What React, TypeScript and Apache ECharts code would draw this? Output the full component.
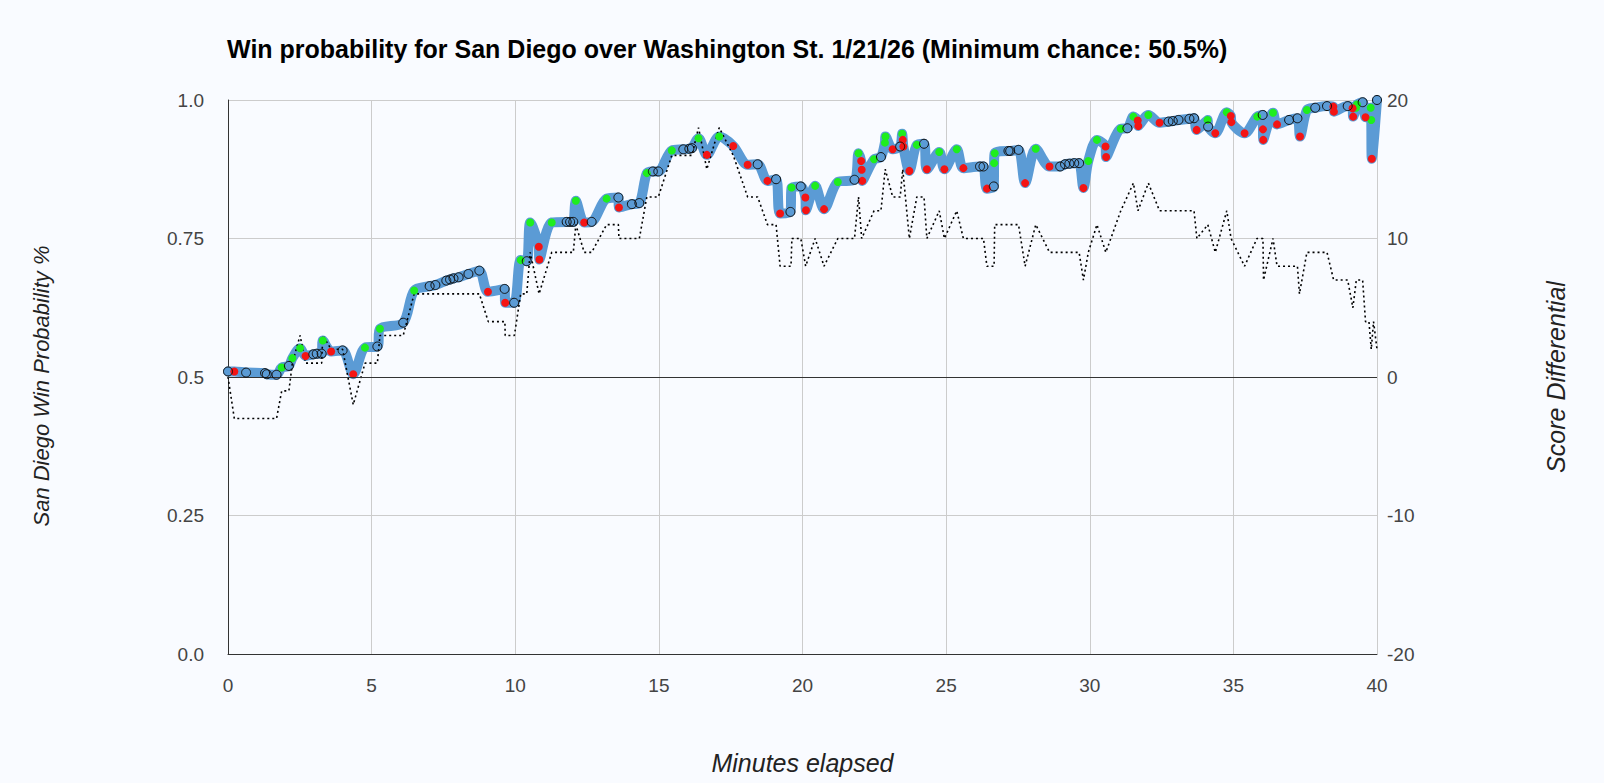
import React, { useEffect, useRef } from "react";
import * as echarts from "echarts";

const chartTitle =
  "Win probability for San Diego over Washington St. 1/21/26 (Minimum chance: 50.5%)";

const xTitle = "Minutes elapsed";
const yLeftTitle = "San Diego Win Probability %";
const yRightTitle = "Score Differential";

// play-by-play events: minute, win probability, event kind (g = green, r = red, o = open)
const minutes = [
  0.0, 0.22, 0.63, 1.29, 1.35, 1.69, 1.87, 2.12, 2.24, 2.51, 2.7, 2.97, 3.09, 3.26, 3.3, 3.59, 3.99, 4.36,
  4.77, 5.2, 5.29, 6.1, 6.48, 7.02, 7.22, 7.6, 7.73, 7.85, 8.03, 8.37, 8.75, 9.05, 9.63, 9.65, 9.96, 10.19,
  10.4, 10.52, 10.82, 10.84, 11.27, 11.79, 11.91, 12.02, 12.11, 12.4, 12.66, 13.18, 13.59, 13.61, 14.06,
  14.32, 14.58, 14.79, 14.98, 15.45, 15.85, 16.06, 16.15, 16.38, 16.67, 17.1, 17.59, 18.09, 18.44, 18.78,
  19.08, 19.22, 19.58, 19.62, 19.94, 20.1, 20.12, 20.44, 20.75, 21.23, 21.81, 21.95, 22.04, 22.06, 22.08,
  22.49, 22.73, 22.87, 22.89, 23.14, 23.4, 23.47, 23.49, 23.51, 23.72, 23.98, 24.23, 24.33, 24.76, 24.94,
  25.37, 25.6, 26.18, 26.3, 26.42, 26.66, 26.67, 26.69, 27.17, 27.23, 27.52, 27.75, 28.12, 28.6, 28.97,
  29.14, 29.29, 29.46, 29.63, 29.78, 29.95, 30.25, 30.55, 30.57, 31.08, 31.31, 31.52, 31.67, 31.69, 32.04,
  32.43, 32.74, 32.89, 33.09, 33.47, 33.63, 33.72, 34.1, 34.12, 34.37, 34.77, 34.91, 34.93, 35.39, 35.83,
  36.02, 36.03, 36.04, 36.38, 36.52, 36.94, 37.23, 37.32, 37.56, 37.85, 38.26, 38.48, 38.5, 38.98, 39.15,
  39.17, 39.27, 39.3, 39.5, 39.6, 39.78, 39.8, 39.82, 40.0,
];

const winProb = [
  0.51, 0.51, 0.508, 0.507, 0.505, 0.504, 0.517, 0.52, 0.534, 0.552, 0.538, 0.541, 0.542, 0.542, 0.566,
  0.546, 0.548, 0.505, 0.553, 0.555, 0.587, 0.598, 0.656, 0.664, 0.666, 0.674, 0.676, 0.678, 0.68, 0.686,
  0.692, 0.654, 0.659, 0.634, 0.634, 0.711, 0.709, 0.779, 0.735, 0.712, 0.779, 0.78, 0.78, 0.78, 0.818,
  0.779, 0.78, 0.822, 0.824, 0.806, 0.812, 0.814, 0.868, 0.871, 0.871, 0.909, 0.911, 0.912, 0.913, 0.931,
  0.901, 0.934, 0.917, 0.883, 0.884, 0.854, 0.857, 0.795, 0.798, 0.842, 0.844, 0.824, 0.801, 0.845, 0.803,
  0.852, 0.856, 0.904, 0.89, 0.874, 0.854, 0.893, 0.897, 0.923, 0.934, 0.911, 0.916, 0.939, 0.928, 0.916,
  0.872, 0.919, 0.921, 0.875, 0.906, 0.875, 0.911, 0.877, 0.88, 0.88, 0.84, 0.844, 0.886, 0.904, 0.908,
  0.908, 0.91, 0.85, 0.912, 0.88, 0.88, 0.884, 0.885, 0.886, 0.886, 0.841, 0.89, 0.928, 0.916, 0.897, 0.948,
  0.949, 0.97, 0.963, 0.953, 0.973, 0.959, 0.961, 0.962, 0.964, 0.966, 0.967, 0.946, 0.964, 0.952, 0.94,
  0.978, 0.971, 0.96, 0.94, 0.97, 0.973, 0.947, 0.928, 0.977, 0.956, 0.964, 0.967, 0.934, 0.982, 0.986,
  0.989, 0.988, 0.979, 0.989, 0.985, 0.97, 0.986, 0.992, 0.996, 0.969, 0.986, 0.964, 0.894, 1.0,
];

const eventKind = [
  "o", "r", "o", "o", "o", "o", "g", "o", "g", "g", "r", "o", "o", "o", "g", "r", "o", "r",
  "g", "o", "g", "o", "g", "o", "o", "o", "o", "o", "o", "o", "o", "r", "o", "r", "o", "g",
  "o", "g", "r", "r", "g", "o", "o", "o", "g", "r", "o", "g", "o", "r", "o",
  "o", "g", "o", "o", "g", "o", "o", "o", "g", "r", "g", "r", "r", "o", "r",
  "o", "r", "o", "g", "o", "r", "r", "g", "r", "g", "o", "g", "r", "r", "r",
  "g", "o", "g", "g", "r", "o", "g", "r", "r", "r", "g", "o", "r", "g", "r",
  "g", "r", "o", "o", "r", "o", "g", "g", "o", "o", "o", "r", "g", "r", "o",
  "o", "o", "o", "o", "r", "g", "g", "r", "r", "g", "o", "g", "r", "r", "g",
  "r", "o", "o", "o", "o", "o", "r", "g", "o", "r", "g", "r", "r", "r", "g",
  "o", "r", "r", "g", "r", "o", "o", "r", "g", "o", "o", "r", "r", "o", "r",
  "r", "g", "g", "o", "r", "g", "g", "r", "o",
];

// score differential (San Diego minus Washington St.)
const scoreMinutes = [
  0, 0.22, 1.69, 1.87, 2.12, 2.24, 2.51, 2.7, 3.26, 3.3, 3.59, 3.99, 4.36, 4.77, 5.2, 5.29, 6.1, 6.48, 8.75,
  9.06, 9.64, 9.65, 9.97, 10.19, 10.4, 10.52, 10.83, 11.27, 12.02, 12.11, 12.4, 12.66, 13.18, 13.59, 13.61,
  14.32, 14.58, 14.98, 15.45, 16.15, 16.38, 16.67, 17.1, 17.59, 18.09, 18.44, 18.78, 19.08, 19.22, 19.6,
  19.63, 19.94, 20.11, 20.44, 20.75, 21.23, 21.81, 21.95, 22.06, 22.49, 22.73, 22.88, 23.14, 23.4, 23.49,
  23.72, 23.98, 24.23, 24.33, 24.76, 24.94, 25.37, 25.6, 26.3, 26.42, 26.67, 26.69, 27.52, 27.75, 28.12,
  28.6, 29.63, 29.78, 29.95, 30.25, 30.56, 31.08, 31.52, 31.68, 32.04, 32.43, 33.63, 33.73, 34.11, 34.37,
  34.77, 34.92, 35.39, 35.82, 36.03, 36.05, 36.38, 36.52, 37.23, 37.3, 37.56, 38.26, 38.49, 38.98, 39.16,
  39.28, 39.5, 39.6, 39.72, 39.8, 39.88, 40,
];

const scoreDiff = [
  0, -3, -3, -1, -1, 1, 3, 1, 1, 3, 2, 2, -2, 1, 1, 3, 3, 6, 6,
  4, 4, 3, 3, 6, 6, 9, 6, 9, 9, 11, 9, 9, 11, 11, 10,
  10, 13, 13, 16, 16, 18, 15, 18, 16, 13, 13, 11, 11, 8, 8,
  10, 10, 8, 10, 8, 10, 10, 13, 10, 12, 12, 15, 13, 13, 15,
  10, 13, 13, 10, 12, 10, 12, 10, 10, 8, 8, 11, 11, 8, 11,
  9, 9, 7, 9, 11, 9, 12, 14, 12, 14, 12, 12, 10, 11, 9,
  12, 10, 8, 10, 10, 7, 10, 8, 8, 6, 9, 9, 7, 7, 5,
  7, 7, 4, 4, 2, 4, 2,
];

const xTicks = { min: 0, max: 40, step: 5 };
const yLeftTicks = { min: 0, max: 1, step: 0.25 };
const yRightTicks = { min: -20, max: 20, step: 10 };

const FONT = "Arial, 'Liberation Sans', sans-serif";

export default function App() {
  const ref = useRef<HTMLDivElement>(null);

  useEffect(() => {
    document.body.style.margin = "0";
    document.body.style.background = "#f9fbff";
    if (!ref.current) return;
    const chart = echarts.init(ref.current, undefined, { renderer: "svg" });

    const lineData = minutes.map((t, i) => [t, winProb[i]]);
    const pick = (k: string) =>
      minutes.map((t, i) => (eventKind[i] === k ? [t, winProb[i]] : null)).filter((d) => d !== null);
    const scoreData = scoreMinutes.map((t, i) => [t, scoreDiff[i]]);

    chart.setOption({
      animation: false,
      backgroundColor: "#f9fbff",
      textStyle: { fontFamily: FONT },
      title: {
        text: chartTitle,
        left: 222,
        top: 31,
        textStyle: { fontFamily: FONT, fontSize: 25, fontWeight: "bold", color: "#000" },
      },
      graphic: [
        {
          type: "text",
          x: 41,
          y: 386,
          rotation: Math.PI / 2,
          style: {
            text: yLeftTitle,
            fontFamily: FONT,
            fontSize: 22,
            fontStyle: "italic",
            fill: "#222",
            align: "center",
            verticalAlign: "middle",
          },
        },
      ],
      grid: { left: 228, right: 227, top: 100, bottom: 129 },
      xAxis: {
        type: "value",
        min: xTicks.min,
        max: xTicks.max,
        interval: xTicks.step,
        name: xTitle,
        nameLocation: "middle",
        nameGap: 96,
        nameTextStyle: { fontStyle: "italic", fontSize: 25, color: "#222", fontFamily: FONT },
        axisLine: { show: true, onZero: false, lineStyle: { color: "#333", width: 1 } },
        axisTick: { show: false },
        axisLabel: { fontSize: 19, color: "#444", margin: 22, fontFamily: FONT },
        splitLine: { show: true, lineStyle: { color: "#ccc", width: 1 } },
      },
      yAxis: [
        {
          type: "value",
          position: "left",
          min: yLeftTicks.min,
          max: yLeftTicks.max,
          interval: yLeftTicks.step,
          axisLine: { show: true, lineStyle: { color: "#333", width: 1 } },
          axisTick: { show: false },
          axisLabel: {
            fontSize: 19,
            color: "#444",
            margin: 24,
            fontFamily: FONT,
            formatter: (v: number) => (v === 0 ? "0.0" : v === 1 ? "1.0" : String(v)),
          },
          splitLine: { show: true, lineStyle: { color: "#ccc", width: 1 } },
        },
        {
          type: "value",
          position: "right",
          min: yRightTicks.min,
          max: yRightTicks.max,
          interval: yRightTicks.step,
          name: yRightTitle,
          nameLocation: "middle",
          nameRotate: 90,
          nameGap: 166,
          nameTextStyle: { fontStyle: "italic", fontSize: 25, color: "#222", fontFamily: FONT },
          axisLine: { show: false },
          axisTick: { show: false },
          axisLabel: { fontSize: 19, color: "#444", margin: 10, fontFamily: FONT },
          splitLine: { show: false },
        },
      ],
      series: [
        {
          type: "line",
          data: lineData,
          smooth: 0.3,
          symbol: "none",
          showSymbol: false,
          lineStyle: { width: 10, color: "#5b9bd5", cap: "round", join: "round" },
          z: 2,
        },
        {
          type: "line",
          yAxisIndex: 1,
          data: scoreData,
          symbol: "none",
          showSymbol: false,
          lineStyle: { color: "#000", width: 1.6, type: [2, 3] },
          markLine: {
            silent: true,
            symbol: "none",
            label: { show: false },
            lineStyle: { color: "#333", type: "solid", width: 1 },
            data: [{ yAxis: 0 }],
          },
          z: 3,
        },
        {
          type: "scatter",
          data: pick("g"),
          symbol: "circle",
          symbolSize: 8,
          itemStyle: { color: "#1eee1e", borderWidth: 0, opacity: 1 },
          z: 4,
        },
        {
          type: "scatter",
          data: pick("r"),
          symbol: "circle",
          symbolSize: 8,
          itemStyle: { color: "#f41414", borderWidth: 0, opacity: 1 },
          z: 4,
        },
        {
          type: "scatter",
          data: pick("o"),
          symbol: "circle",
          symbolSize: 9,
          itemStyle: { color: "rgba(0,0,0,0)", borderColor: "#111", borderWidth: 1, opacity: 1 },
          z: 5,
        },
      ],
    });

    return () => chart.dispose();
  }, []);

  return <div ref={ref} style={{ width: 1604, height: 783 }} />;
}
